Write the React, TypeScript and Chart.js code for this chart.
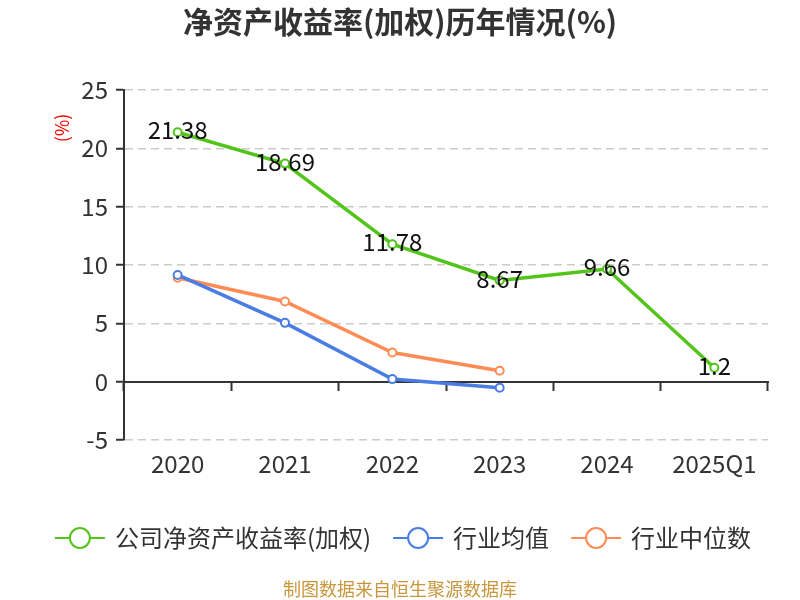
import React, { useEffect, useRef } from "react";
import { Chart, registerables } from "chart.js";

Chart.register(...registerables);

const categories = ["2020", "2021", "2022", "2023", "2024", "2025Q1"];
const companyRoe = [21.38, 18.69, 11.78, 8.67, 9.66, 1.2];
const industryAvg = [9.15, 5.04, 0.22, -0.52, null, null];
const industryMedian = [8.9, 6.87, 2.5, 0.93, null, null];
const seriesNames = ["公司净资产收益率(加权)", "行业均值", "行业中位数"];
const seriesColors = ["#52c41a", "#4a7de3", "#ff8c55"];
const yTicks = { min: -5, max: 25, step: 5 };
const titleText = "净资产收益率(加权)历年情况(%)";
const yTitleText = "(%)";
const sourceText = "制图数据来自恒生聚源数据库";

const FONT = '"Noto Sans CJK SC", "Noto Sans", sans-serif';

const overlayPlugin = {
  id: "overlay",
  afterDatasetsDraw(chart: any) {
    const ctx = chart.ctx;
    const meta = chart.getDatasetMeta(0);
    ctx.save();
    ctx.font = `24px ${FONT}`;
    ctx.fillStyle = "#111";
    ctx.textAlign = "center";
    ctx.textBaseline = "middle";
    meta.data.forEach((pt: any, i: number) => {
      const v = chart.data.datasets[0].data[i];
      if (v == null) return;
      ctx.fillText(String(v), pt.x, pt.y - 2);
    });
    ctx.restore();
  },
  afterDraw(chart: any) {
    const ctx = chart.ctx;
    const area = chart.chartArea;
    const W = chart.width;
    ctx.save();
    // title
    ctx.font = `bold 30px ${FONT}`;
    ctx.fillStyle = "#333";
    ctx.textAlign = "center";
    ctx.textBaseline = "middle";
    ctx.fillText(titleText, W / 2, 22);
    // y title
    ctx.save();
    ctx.translate(area.left - 62, area.top + 38);
    ctx.rotate(-Math.PI / 2);
    ctx.font = `18px ${FONT}`;
    ctx.fillStyle = "#ff0000";
    ctx.fillText(yTitleText, 0, 0);
    ctx.restore();
    // legend
    ctx.font = `24px ${FONT}`;
    const iconW = 50;
    const gapIT = 10;
    const gapItems = 22;
    const widths = seriesNames.map((n) => ctx.measureText(n).width);
    const total =
      widths.reduce((a, b) => a + b, 0) +
      seriesNames.length * (iconW + gapIT) +
      (seriesNames.length - 1) * gapItems;
    let x = W / 2 + 3 - total / 2;
    const ly = 538;
    seriesNames.forEach((name, i) => {
      const color = chart.data.datasets[i].borderColor;
      ctx.strokeStyle = color;
      ctx.lineWidth = 2;
      ctx.beginPath();
      ctx.moveTo(x, ly);
      ctx.lineTo(x + iconW, ly);
      ctx.stroke();
      ctx.beginPath();
      ctx.arc(x + iconW / 2, ly, 10, 0, Math.PI * 2);
      ctx.fillStyle = "#fff";
      ctx.fill();
      ctx.stroke();
      ctx.fillStyle = "#333";
      ctx.textAlign = "left";
      ctx.textBaseline = "middle";
      ctx.fillText(name, x + iconW + gapIT, ly);
      x += iconW + gapIT + widths[i] + gapItems;
    });
    // source
    ctx.font = `18px ${FONT}`;
    ctx.fillStyle = "#c8963c";
    ctx.textAlign = "center";
    ctx.fillText(sourceText, W / 2, 589);
    ctx.restore();
  },
};

export default function App() {
  const ref = useRef<HTMLCanvasElement | null>(null);
  useEffect(() => {
    if (!ref.current) return;
    const makeDs = (label: string, data: any[], color: string) => ({
      label,
      data,
      borderColor: color,
      backgroundColor: "#fff",
      borderWidth: 3.5,
      pointRadius: 4,
      pointHoverRadius: 4,
      pointBorderWidth: 2,
      pointBackgroundColor: "#fff",
      pointBorderColor: color,
      tension: 0,
      spanGaps: false,
    });
    const chart = new Chart(ref.current, {
      type: "line",
      data: {
        labels: categories,
        datasets: [
          makeDs(seriesNames[0], companyRoe, seriesColors[0]),
          makeDs(seriesNames[1], industryAvg, seriesColors[1]),
          makeDs(seriesNames[2], industryMedian, seriesColors[2]),
        ],
      },
      options: {
        animation: false,
        responsive: false,
        devicePixelRatio: 1,
        layout: { padding: { top: 90, right: 32, bottom: 120, left: 0 } },
        plugins: {
          legend: { display: false },
          title: { display: false },
          tooltip: { enabled: false },
        },
        scales: {
          x: {
            type: "category",
            offset: true,
            grid: { display: false, drawTicks: false },
            border: { display: false },
            ticks: {
              color: "#333",
              font: { size: 24, family: FONT },
              padding: 9,
              maxRotation: 0,
            },
            afterFit: (s: any) => {
              s.height = 40;
            },
          },
          x2: {
            type: "category",
            axis: "x",
            position: { y: 0 },
            offset: true,
            grid: {
              display: true,
              offset: true,
              drawOnChartArea: false,
              drawTicks: true,
              tickLength: 8,
              tickColor: "#333",
              tickWidth: 2,
              color: "#333",
            },
            border: { display: true, color: "#333", width: 2 },
            ticks: { display: false },
          },
          y: {
            min: yTicks.min,
            max: yTicks.max,
            ticks: {
              stepSize: yTicks.step,
              color: "#333",
              font: { size: 24, family: FONT },
              padding: 8,
            },
            grid: {
              color: (c: any) => (c.tick && c.tick.value === 0 ? "rgba(0,0,0,0)" : "#cccccc"),
              tickColor: "#333",
              tickLength: 8,
              tickWidth: 2,
              lineWidth: 1.5,
            },
            border: { display: true, color: "#333", width: 2, dash: [8, 5] },
            afterFit: (s: any) => {
              s.width = 124;
            },
          },
        },
      },
      plugins: [overlayPlugin],
    } as any);
    return () => chart.destroy();
  }, []);
  return (
    <div style={{ position: "absolute", left: 0, top: 0, width: 800, height: 600, background: "#fff" }}>
      <canvas ref={ref} width={800} height={600} style={{ width: 800, height: 600 }} />
    </div>
  );
}
